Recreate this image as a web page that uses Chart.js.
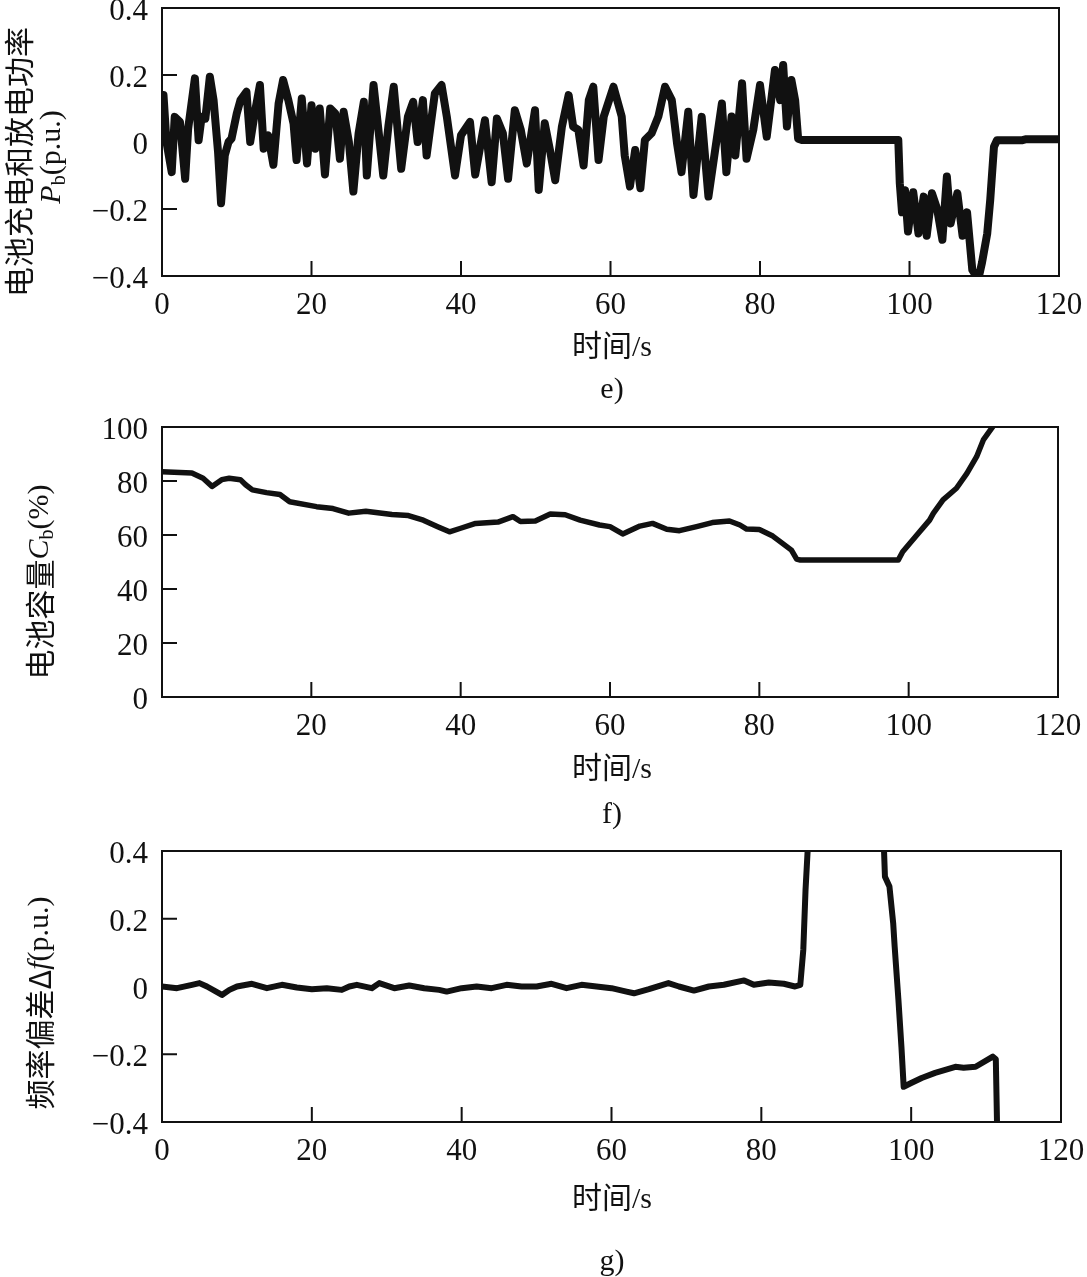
<!DOCTYPE html>
<html>
<head>
<meta charset="utf-8">
<script src="https://cdn.jsdelivr.net/npm/chart.js@4.4.0/dist/chart.umd.min.js"></script>
<style>
  body { margin: 0; background: #fff; width: 1087px; height: 1277px; position: relative; overflow: hidden; }
  canvas { position: absolute; left: 0; }
</style>
</head>
<body>
<canvas id="chartE" width="1087" height="430" style="top:-20px"></canvas>
<canvas id="chartF" width="1087" height="430" style="top:410px"></canvas>
<canvas id="chartG" width="1087" height="437" style="top:840px"></canvas>
<script>
// e) battery charge/discharge power
const tE = [0, 0.2, 0.6, 1.3, 1.7, 2.4, 3.1, 3.5, 4.4, 4.9, 5.3, 5.8, 6.4, 6.9, 7.5, 7.9, 8.4, 8.9, 9.3, 10.0,
  10.5, 11.3, 11.8, 12.4, 13.1, 13.6, 14.2, 14.9, 15.6, 16.2, 16.9, 17.6, 18.0, 18.7, 19.4, 20.0, 20.5, 21.1, 21.8, 22.5,
  23.2, 23.8, 24.3, 25.0, 25.6, 26.3, 27.0, 27.4, 28.3, 29.0, 29.6, 30.3, 31.0, 32.0, 32.9, 33.6, 34.2, 34.9, 35.4, 36.5,
  37.4, 38.1, 39.2, 40.0, 41.2, 41.9, 43.2, 44.1, 44.8, 45.6, 46.3, 47.2, 48.0, 48.8, 49.9, 50.4, 51.2, 51.9, 52.6, 53.5,
  54.4, 55.0, 55.7, 56.4, 57.1, 57.7, 58.4, 59.1, 60.4, 61.5, 61.9, 62.6, 63.3, 64.0, 64.6, 65.5, 66.4, 67.3, 68.2, 68.9,
  69.5, 70.4, 71.1, 72.2, 73.1, 74.0, 74.9, 75.5, 76.2, 76.7, 77.6, 78.2, 79.1, 80.0, 80.9, 82.0, 82.7, 83.1, 83.6, 84.2,
  84.7, 85.1, 85.6, 98.5, 98.7, 99.0, 99.4, 99.8, 100.5, 101.2, 101.9, 102.3, 103.0, 103.7, 104.4, 105.0, 105.5, 106.4, 107.1, 107.7,
  108.4, 109.2, 109.7, 110.4, 110.8, 111.3, 111.7, 115.0, 115.5, 120];
const pE = [0.14, 0.14, 0.0, -0.09, 0.075, 0.06, -0.11, 0.04, 0.19, 0.005, 0.075, 0.07, 0.195, 0.125, -0.03, -0.183, -0.04, 0.0, 0.01, 0.085,
  0.125, 0.15, 0.0, 0.085, 0.17, -0.02, 0.02, -0.068, 0.115, 0.185, 0.125, 0.055, -0.054, 0.13, -0.064, 0.11, -0.02, 0.1, -0.097, 0.1,
  0.085, -0.05, 0.09, 0.0, -0.148, 0.026, 0.12, -0.1, 0.17, 0.026, -0.1, 0.05, 0.165, -0.08, 0.076, 0.12, 0.0, 0.125, -0.04, 0.145,
  0.17, 0.076, -0.1, 0.02, 0.06, -0.097, 0.065, -0.12, 0.07, 0.026, -0.11, 0.095, 0.036, -0.064, 0.095, -0.143, 0.056, -0.024, -0.114, 0.046,
  0.14, 0.046, 0.036, -0.07, 0.125, 0.165, -0.054, 0.076, 0.165, 0.076, -0.04, -0.133, -0.024, -0.138, 0.006, 0.026, 0.076, 0.165, 0.125, -0.004,
  -0.09, 0.09, -0.158, 0.075, -0.163, -0.024, 0.115, -0.09, 0.076, -0.04, 0.175, -0.05, 0.036, 0.17, 0.016, 0.215, 0.125, 0.23, 0.046, 0.185,
  0.125, 0.01, 0.006, 0.006, -0.123, -0.21, -0.144, -0.267, -0.15, -0.273, -0.163, -0.28, -0.153, -0.2, -0.292, -0.103, -0.243, -0.153, -0.28, -0.21,
  -0.382, -0.41, -0.36, -0.273, -0.173, -0.014, 0.005, 0.005, 0.008, 0.008];

// f) battery capacity
const tF = [0, 4, 5.5, 6.7, 8, 9, 10.5, 11.2, 12.1, 14, 15.8, 17.1, 20.7, 22.9, 25, 27.3, 30.8, 33, 35, 37,
  38.5, 40, 42, 45, 47, 48, 50, 52, 54, 56, 58.6, 60, 61.7, 64, 65.7, 67.6, 69.3, 71.6, 73.7, 76,
  77.4, 78.3, 80, 81.8, 83.1, 84.3, 85, 85.5, 98.6, 99.2, 101.1, 102.8, 103.3, 104.6, 106.4, 107.8, 109.1, 110, 111.1, 111.5];
const cF = [83.4, 83, 81, 78, 80.5, 81, 80.5, 78.6, 76.7, 75.7, 75, 72.3, 70.5, 69.8, 68.1, 68.8, 67.6, 67.2, 65.5, 63,
  61.2, 62.5, 64.3, 64.8, 66.8, 65, 65.2, 67.8, 67.5, 65.5, 63.7, 63.1, 60.4, 63.3, 64.3, 62.1, 61.6, 63.1, 64.6, 65.2,
  63.7, 62.2, 62, 59.6, 56.9, 54.4, 51.1, 50.7, 50.7, 53.8, 60, 65.5, 68, 73, 77.3, 82.8, 89, 95.2, 99.5, 101];

// g) frequency deviation
const tG = [0, 2, 4, 5, 6, 8, 9, 10, 12, 14, 16, 18, 20, 22, 24, 25, 26, 28, 29, 31,
  33, 35, 37, 38, 40, 42, 44, 46, 48, 50, 52, 54, 56, 58, 60, 62, 63, 65, 67.6, 69,
  71, 73, 75, 77.7, 79, 81, 83, 84.5, 85.2, 85.6, 85.9, 86.3, 96.3, 96.5, 97.1, 97.6, 97.8, 98.3, 98.7, 99.0,
  100, 101.4, 103.2, 105.9, 107, 108.6, 110.9, 111.3, 111.5];
const dfG = [0.0, -0.005, 0.005, 0.01, 0.0, -0.025, -0.01, 0.0, 0.008, -0.005, 0.005, -0.003, -0.008, -0.005, -0.01, 0.0, 0.005, -0.005, 0.01, -0.005,
  0.003, -0.005, -0.01, -0.015, -0.005, 0.0, -0.005, 0.005, 0.0, 0.0, 0.008, -0.005, 0.005, 0.0, -0.005, -0.015, -0.02, -0.008, 0.01, 0.0,
  -0.012, 0.0, 0.005, 0.018, 0.005, 0.012, 0.008, 0.0, 0.005, 0.108, 0.285, 0.45, 0.45, 0.324, 0.295, 0.187, 0.117, -0.04, -0.178, -0.296,
  -0.285, -0.27, -0.255, -0.237, -0.24, -0.237, -0.207, -0.215, -0.45];

// tick labels
const xTicks = [0, 20, 40, 60, 80, 100, 120];
const xTicksF = [20, 40, 60, 80, 100, 120];
const yTicksPu = [-0.4, -0.2, 0, 0.2, 0.4];
const yTicksPct = [0, 20, 40, 60, 80, 100];

const INK = '#111';
const SERIF = '"Liberation Serif", "Noto Sans CJK SC", serif';
const CJK = '"Noto Sans CJK SC", sans-serif';

const fmtPu = v => Math.abs(v) < 1e-9 ? '0' : (v < 0 ? '\u2212' : '') + Math.abs(v).toFixed(1);

function drawRich(ctx, segs, cx, cy) {
  ctx.save()
  ctx.translate(cx, cy)
  ctx.rotate(-Math.PI / 2)
  ctx.textBaseline = 'middle'
  ctx.textAlign = 'left'
  let total = 0
  segs.forEach(s => { ctx.font = s.font; total += ctx.measureText(s.text).width })
  let x = -total / 2
  segs.forEach(s => {
    ctx.font = s.font
    ctx.fillText(s.text, x, s.dy || 0)
    x += ctx.measureText(s.text).width
  })
  ctx.restore()
}

// frame, inward ticks, axis titles and caption
function decor(opt) {
  return {
    id: 'decor',
    afterDraw(chart) {
      const {ctx, chartArea: a, scales} = chart
      ctx.save()
      ctx.strokeStyle = INK
      ctx.lineWidth = 2
      ctx.strokeRect(a.left, a.top, a.right - a.left, a.bottom - a.top)
      ctx.beginPath()
      opt.xMarks.forEach(v => {
        const px = scales.x.getPixelForValue(v)
        ctx.moveTo(px, a.bottom)
        ctx.lineTo(px, a.bottom - 15)
      })
      opt.yMarks.forEach(v => {
        const py = scales.y.getPixelForValue(v)
        ctx.moveTo(a.left, py)
        ctx.lineTo(a.left + 15, py)
      })
      ctx.stroke()
      ctx.fillStyle = INK
      ctx.textAlign = 'center'
      ctx.textBaseline = 'middle'
      ctx.font = '30px ' + SERIF
      ctx.fillText('时间/s', 612, opt.xTitleY - opt.top)
      ctx.fillText(opt.caption, 612, opt.captionY - opt.top)
      opt.yTitle.forEach(line => drawRich(ctx, line.segs, line.x, line.y - opt.top))
      ctx.restore()
    }
  }
}

function makeChart(id, xs, ys, o) {
  const points = xs.map((x, i) => ({x: x, y: ys[i]}))
  return new Chart(document.getElementById(id), {
    type: 'line',
    data: {
      datasets: [{
        data: points,
        borderColor: INK,
        borderWidth: o.lineWidth,
        pointRadius: 0,
        tension: 0,
        clip: 0,
        borderJoinStyle: 'round',
        borderCapStyle: 'round'
      }]
    },
    options: {
      responsive: false,
      animation: false,
      events: [],
      layout: {padding: {left: 0, top: o.padTop, right: o.padRight, bottom: 0}},
      plugins: {legend: {display: false}, tooltip: {enabled: false}},
      scales: {
        x: {
          type: 'linear',
          min: 0,
          max: 120,
          afterBuildTicks: s => { s.ticks = o.xLabels.map(v => ({value: v})) },
          afterFit: s => { s.height = o.xHeight; s.paddingLeft = 0; s.paddingRight = 0 },
          grid: {display: false, drawTicks: false},
          border: {display: false},
          ticks: {color: INK, font: {family: SERIF, size: 31}, padding: 11, autoSkip: false, maxRotation: 0}
        },
        y: {
          type: 'linear',
          min: o.yMin,
          max: o.yMax,
          afterBuildTicks: s => { s.ticks = o.yLabels.map(v => ({value: v})) },
          afterFit: s => { s.width = 162; s.paddingTop = 0; s.paddingBottom = 0 },
          grid: {display: false, drawTicks: false},
          border: {display: false},
          ticks: {color: INK, font: {family: SERIF, size: 31}, padding: 14, labelOffset: 4, callback: o.fmt}
        }
      }
    },
    plugins: [decor(o.decor)]
  })
}

const big = '30px ' + SERIF
const ital = 'italic 30px ' + SERIF
const sub = '20px ' + SERIF
const cjk = '30px ' + CJK

makeChart('chartE', tE, pE, {
  lineWidth: 8, padTop: 28, padRight: 28, xHeight: 134,
  yMin: -0.4, yMax: 0.4, xLabels: xTicks, yLabels: yTicksPu, fmt: fmtPu,
  decor: {
    top: -20, xTitleY: 348, captionY: 390, caption: 'e)',
    xMarks: [20, 40, 60, 80, 100], yMarks: [-0.2, 0, 0.2],
    yTitle: [
      {x: 19, y: 162, segs: [{text: '电池充电和放电功率', font: cjk}]},
      {x: 52, y: 157, segs: [{text: 'P', font: ital}, {text: 'b', font: sub, dy: 8}, {text: '(p.u.)', font: big}]}
    ]
  }
})

makeChart('chartF', tF, cF, {
  lineWidth: 5.5, padTop: 17, padRight: 29, xHeight: 143,
  yMin: 0, yMax: 100, xLabels: xTicksF, yLabels: yTicksPct, fmt: v => String(v),
  decor: {
    top: 410, xTitleY: 770, captionY: 815, caption: 'f)',
    xMarks: [20, 40, 60, 80, 100], yMarks: [20, 40, 60, 80],
    yTitle: [
      {x: 40, y: 582, segs: [{text: '电池容量', font: cjk}, {text: 'C', font: ital}, {text: 'b', font: sub, dy: 8}, {text: '(%)', font: big}]}
    ]
  }
})

makeChart('chartG', tG, dfG, {
  lineWidth: 6, padTop: 11, padRight: 26, xHeight: 155,
  yMin: -0.4, yMax: 0.4, xLabels: xTicks, yLabels: yTicksPu, fmt: fmtPu,
  decor: {
    top: 840, xTitleY: 1200, captionY: 1262, caption: 'g)',
    xMarks: [20, 40, 60, 80, 100], yMarks: [-0.2, 0, 0.2],
    yTitle: [
      {x: 40, y: 1003, segs: [{text: '频率偏差Δ', font: cjk}, {text: 'f', font: ital}, {text: '(p.u.)', font: big}]}
    ]
  }
})
</script>
</body>
</html>
